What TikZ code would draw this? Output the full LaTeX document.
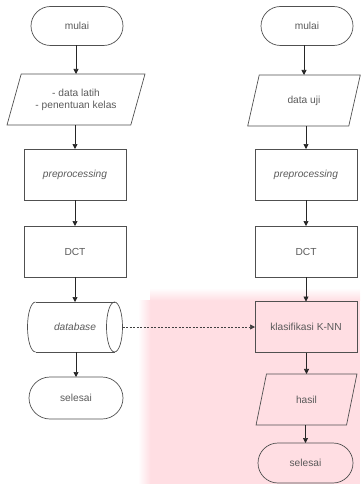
\documentclass[tikz,border=0pt]{standalone}
\usepackage{fontspec}
\setmainfont{Liberation Sans}
\usetikzlibrary{shapes.geometric,shapes.misc,arrows.meta}
\definecolor{pinkbg}{RGB}{255,222,227}
\definecolor{linec}{RGB}{80,80,80}
\definecolor{textc}{RGB}{90,90,90}
\begin{document}
\begin{tikzpicture}[x=1pt,y=-1pt,
  base/.style={draw=linec, line width=0.7pt, text=textc, font=\fontsize{10.2}{12}\selectfont, inner sep=0pt, outer sep=0pt, align=center},
  term/.style={base, rounded rectangle, minimum width=92pt, minimum height=39pt},
  io/.style={base, trapezium, trapezium stretches=true, minimum height=51pt},
  proc/.style={base, rectangle, minimum width=102pt, minimum height=51pt},
  dbbox/.style={base, draw=none, rectangle, minimum width=95pt, minimum height=50pt},
  dbline/.style={draw=linec, line width=0.7pt},
  arr/.style={-{Triangle[length=5pt,width=5pt]}, line width=0.7pt, draw=black!85},
  darr/.style={-{Triangle[length=5pt,width=5pt]}, line width=0.7pt, draw=black!75, dash pattern=on 2pt off 1.5pt},
]
\useasboundingbox (0,0) rectangle (360,484);
% watermark background
\fill[pinkbg] (150,300) rectangle (360,484);
\shade[left color=white, right color=pinkbg] (138,300) rectangle (150.5,484);
\shade[top color=white, bottom color=pinkbg] (150,288) rectangle (360,300.5);

% left column
\node[term] (m1) at (77,26) {mulai};
\node[io, trapezium left angle=64, trapezium right angle=116, minimum width=138pt] (d1) at (76,99.5) {- data latih\\- penentuan kelas};
\node[proc] (p1) at (75,174.5) {\itshape preprocessing};
\node[proc] (c1) at (75,251.5) {DCT};
\node[dbbox] (b1) at (75,327) {\itshape database};
\draw[dbline] ([xshift=8pt]b1.north west) -- ([xshift=-8pt]b1.north east);
\draw[dbline] ([xshift=8pt]b1.south west) -- ([xshift=-8pt]b1.south east);
\draw[dbline] ([xshift=8pt]b1.north west) arc[start angle=90, end angle=270, x radius=8pt, y radius=25pt];
\draw[dbline] ([xshift=-8pt]b1.east) ellipse [x radius=8pt, y radius=25pt];
\node[term, minimum width=94pt, minimum height=42pt] (s1) at (76,398) {selesai};

% right column
\node[term] (m2) at (307,26) {mulai};
\node[io, trapezium left angle=66, trapezium right angle=114, minimum width=113pt] (d2) at (304,100.5) {data uji};
\node[proc] (p2) at (306,174.5) {\itshape preprocessing};
\node[proc] (c2) at (306,251.5) {DCT};
\node[proc] (k2) at (306,327) {klasifikasi K-NN};
\node[io, trapezium left angle=70, trapezium right angle=110, minimum width=101pt] (h2) at (306.5,399.5) {hasil};
\node[term, minimum width=95pt, minimum height=40pt] (s2) at (305.5,463) {selesai};

% connectors
\foreach \a/\b in {m1/d1, d1/p1, p1/c1, c1/b1, b1/s1, m2/d2, d2/p2, p2/c2, c2/k2, k2/h2, h2/s2}
  \draw[arr] (\a.south -| \b.north) -- (\b.north);
\draw[darr] (b1.east) -- (k2.west);
\end{tikzpicture}
\end{document}
